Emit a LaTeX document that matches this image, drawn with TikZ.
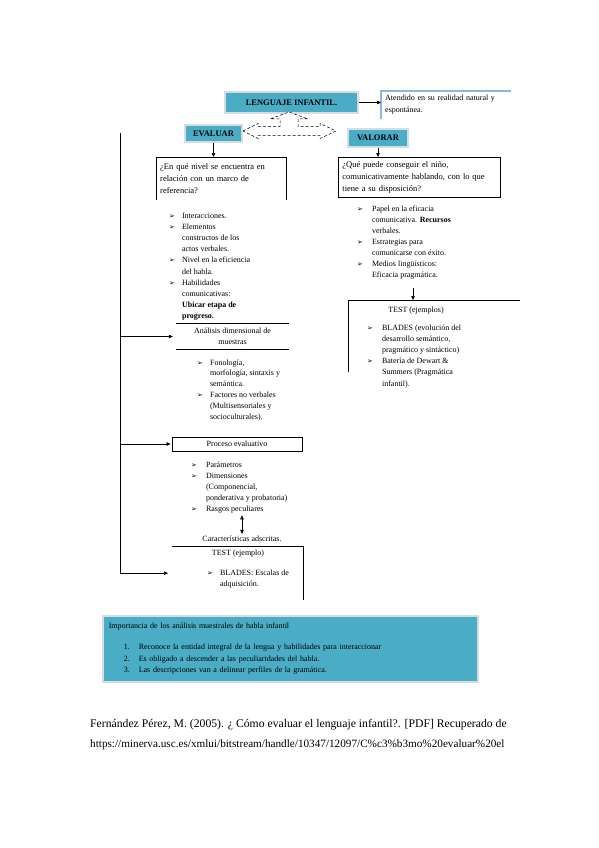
\documentclass[tikz,border=0pt]{standalone}
\usepackage{fontspec}
\setmainfont{Liberation Serif}
\newfontfamily\simbolos{DejaVu Sans}
\usetikzlibrary{arrows.meta,shadows}
\definecolor{mapaTeal}{HTML}{4BACC6}
\definecolor{mapaBorde}{HTML}{D6DCE4}
\definecolor{mapaAzul}{HTML}{8EB4E3}
\newcommand{\vineta}{{\simbolos\fontsize{7}{7}\selectfont ➢}}

\begin{document}
\begin{tikzpicture}[x=1pt,y=-1pt,
  >={Triangle[length=4pt,width=3.5pt]},
  tema/.style={draw=mapaBorde,line width=1.6pt,fill=mapaTeal,text=black,inner sep=0pt,font=\fontsize{8.5}{10}\selectfont\bfseries,drop shadow={opacity=.35,shadow xshift=1pt,shadow yshift=-1pt}},
  nota/.style={inner sep=4pt,text width=122pt,align=left,font=\fontsize{8}{12}\selectfont},
  pregunta/.style={inner sep=4pt,align=left,font=\fontsize{8.5}{12}\selectfont},
  lista/.style={anchor=base west,inner sep=0pt,font=\fontsize{8}{11.2}\selectfont},
  rotulo/.style={inner sep=2pt,align=center,font=\fontsize{8}{11}\selectfont},
  cita/.style={anchor=base west,inner sep=0pt,font=\fontsize{11.7}{14}\selectfont},
  caja/.style={draw=black,line width=.8pt},
  link/.style={->,line width=.6pt,draw=black},
  bloque/.style={draw=black,densely dashed,line width=.5pt,fill=white}
]
\fill[white] (0,0) rectangle (599,848);
\useasboundingbox (0,0) rectangle (599,848);

\node[tema,minimum width=133,minimum height=21] (lenguaje) at (291.5,102.5) {LENGUAJE INFANTIL.};
\node[nota,anchor=north west] (atendido) at (381,91) {Atendido en su realidad natural y\\espontánea.};
\draw[mapaAzul,line width=1.2pt] (atendido.south west) -- (atendido.north west) -- (atendido.north east);
\draw[link] (lenguaje.east) -- (atendido.west |- lenguaje.east);

% flecha de bloque hacia las dos ramas
\draw[bloque] (243,131) -- (258,123.5) -- (258,126.5) -- (280,126.5) -- (280,119) -- (270,119) -- (289,112)
  -- (308,119) -- (298,119) -- (298,126.5) -- (320,126.5) -- (320,123.5) -- (336,131) -- (320,138.5)
  -- (320,135.5) -- (258,135.5) -- (258,138.5) -- cycle;

\node[tema,minimum width=57,minimum height=17] (evaluar) at (213.5,133.5) {EVALUAR};
\node[tema,minimum width=60,minimum height=18] (valorar) at (378,138) {VALORAR};

\node[pregunta,anchor=north west,text width=122,minimum height=43] (pregizq) at (156,157) {¿En qué nivel se encuentra en\\relación con un marco de\\referencia?};
\draw[caja] (pregizq.south west) -- (pregizq.north west) -- (pregizq.north east) -- (pregizq.south east);
\node[pregunta,caja,anchor=north west,text width=154,minimum height=39] (pregder) at (338,157) {¿Qué puede conseguir el niño,\\comunicativamente hablando, con lo que\\tiene a su disposición?};
\draw[link] (evaluar.south) -- (evaluar.south |- pregizq.north);
\draw[link] (valorar.south) -- (valorar.south |- pregder.north);

\node[lista] (listaizq) at (169,218) {\begin{tabular}[t]{@{}l@{\hspace{7pt}}l@{}}
\vineta & Interacciones.\\
\vineta & Elementos\\
 & constructos de los\\
 & actos verbales.\\
\vineta & Nivel en la eficiencia\\
 & del habla.\\
\vineta & Habilidades\\
 & comunicativas:\\
 & \textbf{Ubicar etapa de}\\
 & \textbf{progreso.}
\end{tabular}};

\node[lista,font=\fontsize{8}{11}\selectfont] (listader) at (357,211) {\begin{tabular}[t]{@{}l@{\hspace{9pt}}l@{}}
\vineta & Papel en la eficacia\\
 & comunicativa. \textbf{Recursos}\\
 & verbales.\\
\vineta & Estrategias para\\
 & comunicarse con éxito.\\
\vineta & Medios lingüísticos:\\
 & Eficacia pragmática.
\end{tabular}};

% rama derecha: pruebas
\coordinate (flechaTest) at (413,288);
\node[minimum width=172,minimum height=72,inner sep=0pt,anchor=north west] (marcoder) at (348,300) {};
\draw[caja] (marcoder.south west) -- (marcoder.north west) -- (marcoder.north east);
\draw[link] (flechaTest) -- (flechaTest |- marcoder.north);
\node[rotulo] (testder) at (416,311) {TEST (ejemplos)};
\node[lista] (listatest) at (367,330) {\begin{tabular}[t]{@{}l@{\hspace{9pt}}l@{}}
\vineta & BLADES (evolución del\\
 & desarrollo semántico,\\
 & pragmático y sintáctico)\\
\vineta & Batería de Dewart \&\\
 & Summers (Pragmática\\
 & infantil).
\end{tabular}};

% rama izquierda: eje vertical
\coordinate (espina) at (120,133);
\node[rotulo,minimum width=113,minimum height=25] (analisis) at (232.5,336.5) {Análisis dimensional de\\muestras};
\draw[caja] (analisis.north west) -- (analisis.north east);
\draw[caja] (analisis.south west) -- (analisis.south east);
\node[lista,font=\fontsize{8}{10.8}\selectfont] (listaanal) at (197,365) {\begin{tabular}[t]{@{}l@{\hspace{7pt}}l@{}}
\vineta & Fonología,\\
 & morfología, sintaxis y\\
 & semántica.\\
\vineta & Factores no verbales\\
 & (Multisensoriales y\\
 & socioculturales).
\end{tabular}};

\node[rotulo,caja,minimum width=130,minimum height=14,inner sep=1pt] (proceso) at (237,444) {Proceso evaluativo};
\node[lista] (listaproc) at (191,467) {\begin{tabular}[t]{@{}l@{\hspace{9pt}}l@{}}
\vineta & Parámetros\\
\vineta & Dimensiones\\
 & (Componencial,\\
 & ponderativa y probatoria)\\
\vineta & Rasgos peculiares
\end{tabular}};

\node[rotulo] (caract) at (242,539) {Características adscritas.};
\draw[link,<->] (listaproc.south -| caract.north) -- (caract.north);

\node[minimum width=131,minimum height=54,inner sep=0pt,anchor=north west] (marcoej) at (172,546) {};
\draw[caja] (marcoej.north west) -- (marcoej.north east) -- (marcoej.south east);
\node[rotulo] (testej) at (238,554) {TEST (ejemplo)};
\node[lista,font=\fontsize{8}{11}\selectfont] (listaej) at (207,575) {\begin{tabular}[t]{@{}l@{\hspace{7pt}}l@{}}
\vineta & BLADES: Escalas de\\
 & adquisición.
\end{tabular}};

\draw[link,shorten >=3pt] (espina |- analisis.west) -- (analisis.west);
\draw[link,shorten >=1pt] (espina |- proceso.west) -- (proceso.west);
\draw[link,shorten >=4pt] (espina) |- (marcoej.west);

% recuadro inferior
\node[tema,font=\fontsize{8}{11.5}\selectfont,anchor=north west,minimum width=375,minimum height=66,text width=363,inner sep=6pt,align=left] (importancia) at (102,615) {Importancia de los análisis muestrales de habla infantil\\[9.5pt]
\hspace*{15pt}\makebox[6pt][r]{1.}\hspace{9pt}Reconoce la entidad integral de la lengua y habilidades para interaccionar\\
\hspace*{15pt}\makebox[6pt][r]{2.}\hspace{9pt}Es obligado a descender a las peculiaridades del habla.\\
\hspace*{15pt}\makebox[6pt][r]{3.}\hspace{9pt}Las descripciones van a delinear perfiles de la gramática.};

\node[cita] (ref1) at (90,727) {Fernández Pérez, M. (2005). ¿ Cómo evaluar el lenguaje infantil?. [PDF] Recuperado de};
\node[cita,font=\fontsize{11.2}{14}\selectfont] (ref2) at (90,747) {https://minerva.usc.es/xmlui/bitstream/handle/10347/12097/C\%c3\%b3mo\%20evaluar\%20el};
\end{tikzpicture}
\end{document}
